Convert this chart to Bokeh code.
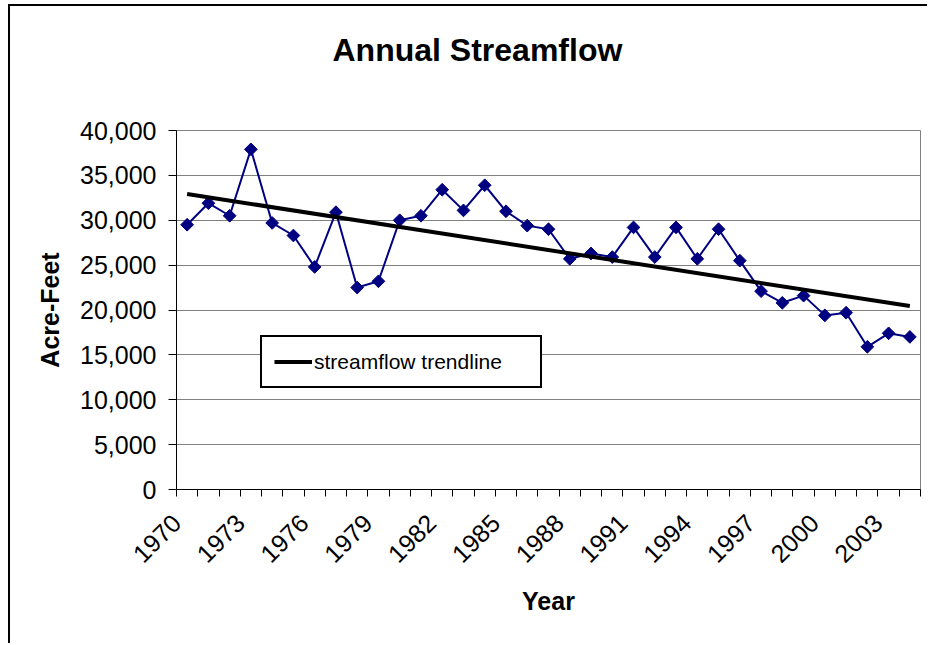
import numpy as np
from math import pi
from bokeh.plotting import figure
from bokeh.models import (Range1d, FixedTicker, NumeralTickFormatter, Legend,
                          LegendItem, ColumnDataSource)
from bokeh.embed import file_html
from bokeh.resources import INLINE

# ---- data ----
years = list(range(1970, 2005))
flows = [29500, 31900, 30500, 37900, 29700, 28300, 24800, 30900, 22500, 23200,
         30000, 30500, 33400, 31100, 33900, 31000, 29400, 29000, 25700, 26300,
         25900, 29200, 25900, 29200, 25700, 29000, 25500, 22100, 20800, 21600,
         19400, 19700, 15900, 17400, 17000]
label_years = [1970, 1973, 1976, 1979, 1982, 1985, 1988, 1991, 1994, 1997, 2000, 2003]
y_ticks = [0, 5000, 10000, 15000, 20000, 25000, 30000, 35000, 40000]
chart_title = "Annual Streamflow"

# least-squares trendline (as the spreadsheet computes it)
slope, intercept = np.polyfit(years, flows, 1)
trend_x = [years[0], years[-1]]
trend_y = [slope * x + intercept for x in trend_x]

FONT = "Liberation Sans"
NAVY = "#000080"

p = figure(width=919, height=639, output_backend="svg", toolbar_location=None,
           x_range=Range1d(years[0] - 0.5, years[-1] + 0.5),
           y_range=Range1d(0, 40000),
           min_border_left=166, min_border_right=9,
           min_border_top=124, min_border_bottom=156)
p.styles = {"margin-left": "8px", "margin-top": "4px",
            "border-top": "2px solid black", "border-left": "2px solid black"}

p.title.text = chart_title
p.title.text_font = FONT
p.title.text_font_size = "32px"
p.title.text_font_style = "bold"
p.title.text_color = "black"
p.title.align = "left"
p.title.offset = 156
p.title.standoff = 10
p.title.padding = (0, 0, 0, 58)

src = ColumnDataSource(dict(x=years, y=flows))
p.line("x", "y", source=src, line_color=NAVY, line_width=2)
p.scatter("x", "y", source=src, marker="square", angle=pi / 4, size=9,
          fill_color=NAVY, line_color=NAVY)
trend = p.line(trend_x, trend_y, line_color="black", line_width=4)

legend = Legend(items=[LegendItem(label="streamflow trendline", renderers=[trend])],
                location=(84, 101), orientation="vertical")
legend.label_text_font = FONT
legend.label_text_font_size = "21px"
legend.label_text_color = "black"
legend.label_standoff = 2
legend.label_width = 214
legend.label_height = 25
legend.glyph_width = 38
legend.glyph_height = 25
legend.padding = 12
legend.margin = 0
legend.spacing = 0
legend.border_line_color = "black"
legend.border_line_alpha = 1
legend.border_line_width = 2
legend.background_fill_color = "white"
legend.background_fill_alpha = 1
p.add_layout(legend, "center")

# grid / outline
p.xgrid.visible = False
p.ygrid.grid_line_color = "#808080"
p.ygrid.grid_line_width = 1
p.ygrid.ticker = FixedTicker(ticks=y_ticks)
p.outline_line_color = "#808080"
p.outline_line_width = 1

# x axis: ticks on category boundaries, labels every third year
bounds = [y - 0.5 for y in years] + [years[-1] + 0.5]
overrides = {b: "" for b in bounds}
for ly in label_years:
    overrides[ly - 0.5] = str(ly)
xa = p.xaxis[0]
xa.ticker = FixedTicker(ticks=bounds)
xa.major_label_overrides = overrides
xa.major_label_orientation = pi / 4
xa.major_label_text_font = FONT
xa.major_label_text_font_size = "25px"
xa.major_label_text_color = "black"
xa.major_label_standoff = 22
xa.major_tick_out = 7
xa.major_tick_in = 0
xa.minor_tick_line_color = None
xa.axis_line_color = "black"
xa.major_tick_line_color = "black"
xa.axis_label = "Year"
xa.axis_label_text_font = FONT
xa.axis_label_text_font_size = "25px"
xa.axis_label_text_font_style = "bold"
xa.axis_label_text_color = "black"
xa.axis_label_standoff = 13

ya = p.yaxis[0]
ya.ticker = FixedTicker(ticks=y_ticks)
ya.formatter = NumeralTickFormatter(format="0,0")
ya.major_label_text_font = FONT
ya.major_label_text_font_size = "25px"
ya.major_label_text_color = "black"
ya.major_tick_out = 8
ya.major_tick_in = 0
ya.minor_tick_line_color = None
ya.axis_line_color = "black"
ya.major_tick_line_color = "black"
ya.major_label_standoff = 12
ya.axis_label = "Acre-Feet"
ya.axis_label_text_font = FONT
ya.axis_label_text_font_size = "25px"
ya.axis_label_text_font_style = "bold"
ya.axis_label_text_color = "black"
ya.axis_label_standoff = 13

open("out.html", "w").write(file_html(p, INLINE))
